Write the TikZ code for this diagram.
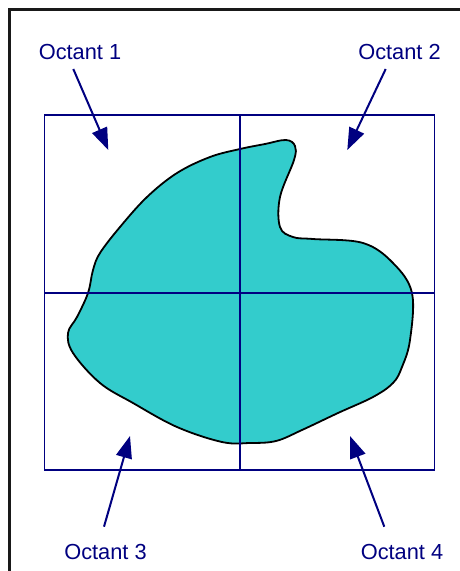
\documentclass[tikz,border=0pt]{standalone}
\usepackage{fontspec}
\setmainfont{Liberation Sans}
\usetikzlibrary{arrows.meta}
\definecolor{navyline}{RGB}{0,0,128}
\definecolor{blobfill}{RGB}{51,204,204}

\begin{document}
\begin{tikzpicture}[
  x=1pt, y=-1pt,
  >={Triangle[length=22pt,width=16pt]},
  lbl/.style={text=navyline,font=\fontsize{21.8}{26}\selectfont,inner sep=0pt},
  quadline/.style={draw=navyline,line width=1.7pt},
  pointer/.style={->,draw=navyline,fill=navyline,line width=2pt},
  blob/.style={draw=black,line width=1.8pt,fill=blobfill}
]
\useasboundingbox (0,0) rectangle (460,571);
% frame
\draw[line width=2.4pt,black!90] (9.5,571) -- (9.5,9.5) -- (460,9.5);

% region
\draw[blob] plot[smooth cycle,tension=0.6] coordinates {
  (240,149) (265,144) (286,140) (295,146) (294,160) (280,197) (280,227)
  (293,237) (313,239) (363,243) (393,263) (412,293) (410,340) (402,367)
  (393,383) (373,397) (338,413) (302,430) (276,441) (250,443) (222,442)
  (177,427) (133,403) (100,383) (73,353) (68,333) (77,317) (88,293)
  (93,270) (100,253) (120,227) (147,197) (177,173) (210,157)};

% quadrants
\draw[quadline] (44.5,115) rectangle (434.5,470);
\draw[quadline] (240,115) -- (240,470);
\draw[quadline] (44.5,292.7) -- (434.5,292.7);

% labels
\node[lbl] (oct1) at (80,51.7) {Octant 1};
\node[lbl] (oct2) at (399.5,51.7) {Octant 2};
\node[lbl] (oct3) at (105.5,551.7) {Octant 3};
\node[lbl] (oct4) at (402,551.7) {Octant 4};

% pointer ends
\coordinate (tail1) at (73.3,69);
\coordinate (tip1) at (108.3,150);
\coordinate (tail2) at (385.7,69);
\coordinate (tip2) at (347.3,150);
\coordinate (tail3) at (104,526.7);
\coordinate (tip3) at (130,436);
\coordinate (tail4) at (384.3,526.7);
\coordinate (tip4) at (350,436);

\draw[pointer] (tail1) -- (tip1);
\draw[pointer] (tail2) -- (tip2);
\draw[pointer] (tail3) -- (tip3);
\draw[pointer] (tail4) -- (tip4);
\end{tikzpicture}
\end{document}
